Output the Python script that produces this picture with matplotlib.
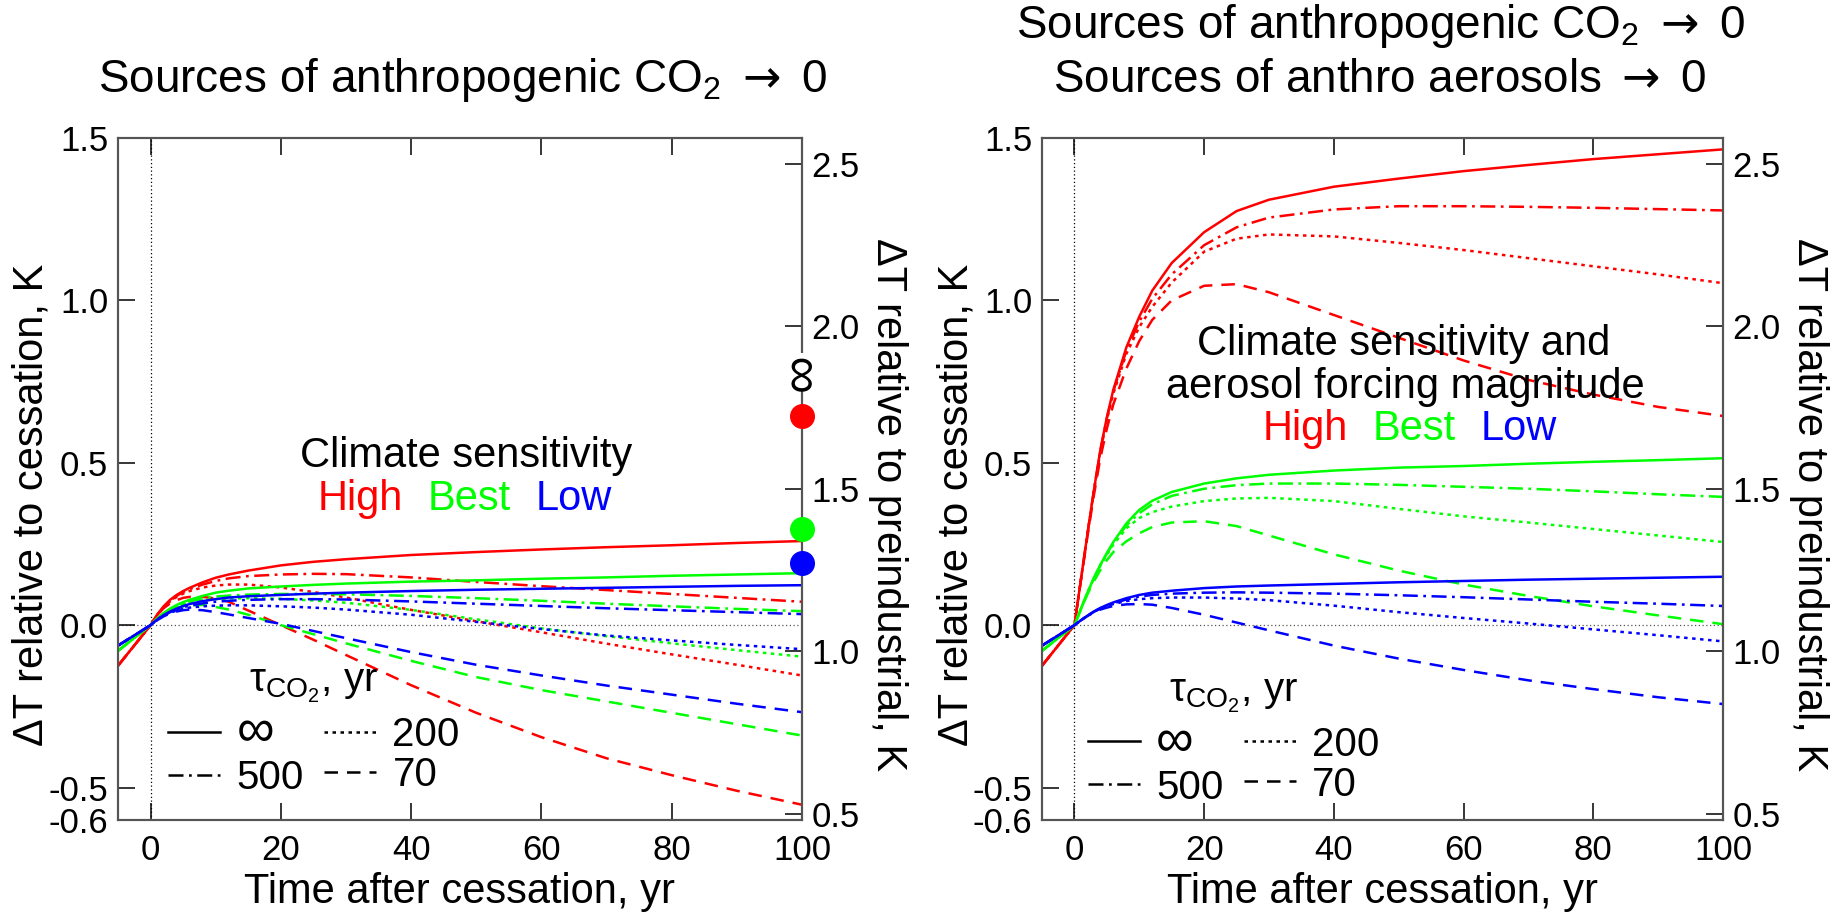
import numpy as np
import matplotlib.pyplot as plt
from matplotlib.lines import Line2D

plt.rcParams['font.family'] = ['Liberation Sans', 'DejaVu Sans']
plt.rcParams['mathtext.fontset'] = 'custom'
plt.rcParams['mathtext.rm'] = 'Liberation Sans'
plt.rcParams['mathtext.it'] = 'Liberation Sans:italic'
plt.rcParams['mathtext.sf'] = 'DejaVu Sans'

W, H = 1837, 916

# years after cessation
t = [-5, 0, 1, 2, 3, 4, 5, 6, 8, 10, 12, 15, 20, 25, 30, 40, 50, 60, 70, 80, 90, 100]

# --- CO2 sources -> 0 (left) ---
red_inf_L = [-0.125, 0, 0.032, 0.058, 0.078, 0.093, 0.105, 0.115, 0.132, 0.146, 0.156, 0.168, 0.184, 0.195, 0.203, 0.216, 0.225, 0.233, 0.240, 0.246, 0.253, 0.259]
red_500_L = [-0.125, 0, 0.031, 0.056, 0.075, 0.090, 0.102, 0.111, 0.125, 0.136, 0.144, 0.151, 0.156, 0.158, 0.157, 0.147, 0.133, 0.120, 0.108, 0.096, 0.084, 0.072]
red_200_L = [-0.125, 0, 0.031, 0.055, 0.073, 0.087, 0.097, 0.105, 0.116, 0.122, 0.125, 0.125, 0.116, 0.102, 0.085, 0.047, 0.012, -0.022, -0.057, -0.090, -0.122, -0.155]
red_70_L = [-0.125, 0, 0.030, 0.052, 0.067, 0.077, 0.084, 0.087, 0.087, 0.082, 0.072, 0.045, 0.0, -0.045, -0.092, -0.185, -0.270, -0.345, -0.410, -0.462, -0.510, -0.553]

green_inf_L = [-0.079, 0, 0.020, 0.037, 0.051, 0.062, 0.071, 0.078, 0.090, 0.100, 0.106, 0.113, 0.119, 0.124, 0.128, 0.134, 0.138, 0.143, 0.147, 0.152, 0.156, 0.160]
green_500_L = [-0.079, 0, 0.020, 0.036, 0.049, 0.059, 0.067, 0.073, 0.082, 0.088, 0.091, 0.094, 0.096, 0.096, 0.095, 0.090, 0.083, 0.075, 0.066, 0.058, 0.050, 0.043]
green_200_L = [-0.079, 0, 0.020, 0.036, 0.048, 0.057, 0.064, 0.069, 0.076, 0.080, 0.082, 0.083, 0.081, 0.076, 0.069, 0.047, 0.018, -0.010, -0.034, -0.056, -0.077, -0.097]
green_70_L = [-0.079, 0, 0.019, 0.034, 0.045, 0.053, 0.058, 0.061, 0.062, 0.056, 0.048, 0.032, 0.0, -0.028, -0.056, -0.110, -0.160, -0.200, -0.235, -0.270, -0.305, -0.340]

blue_inf_L = [-0.063, 0, 0.017, 0.031, 0.042, 0.051, 0.059, 0.065, 0.074, 0.080, 0.085, 0.089, 0.093, 0.097, 0.100, 0.105, 0.109, 0.112, 0.115, 0.118, 0.121, 0.123]
blue_500_L = [-0.063, 0, 0.017, 0.030, 0.040, 0.048, 0.055, 0.060, 0.067, 0.072, 0.075, 0.078, 0.080, 0.080, 0.079, 0.073, 0.066, 0.059, 0.052, 0.046, 0.040, 0.034]
blue_200_L = [-0.063, 0, 0.017, 0.029, 0.038, 0.045, 0.050, 0.054, 0.058, 0.060, 0.061, 0.061, 0.058, 0.054, 0.048, 0.032, 0.010, -0.012, -0.032, -0.047, -0.061, -0.074]
blue_70_L = [-0.063, 0, 0.015, 0.027, 0.036, 0.042, 0.046, 0.048, 0.046, 0.040, 0.033, 0.022, 0.004, -0.018, -0.040, -0.083, -0.122, -0.155, -0.186, -0.214, -0.242, -0.268]

# equilibrium warming (tau = infinity), left panel only
eq_high, eq_best, eq_low = 0.645, 0.297, 0.192

# --- CO2 and aerosol sources -> 0 (right) ---
red_inf_R = [-0.125, 0, 0.14, 0.28, 0.415, 0.54, 0.64, 0.725, 0.855, 0.95, 1.03, 1.115, 1.21, 1.275, 1.31, 1.35, 1.375, 1.398, 1.417, 1.435, 1.45, 1.465]
red_500_R = [-0.125, 0, 0.14, 0.28, 0.415, 0.538, 0.637, 0.72, 0.845, 0.935, 1.005, 1.08, 1.17, 1.225, 1.255, 1.28, 1.29, 1.29, 1.288, 1.285, 1.281, 1.277]
red_200_R = [-0.125, 0, 0.14, 0.279, 0.413, 0.535, 0.632, 0.713, 0.835, 0.918, 0.98, 1.055, 1.15, 1.19, 1.203, 1.197, 1.177, 1.155, 1.13, 1.105, 1.08, 1.053]
red_70_R = [-0.125, 0, 0.138, 0.272, 0.40, 0.515, 0.605, 0.68, 0.79, 0.875, 0.94, 1.0, 1.045, 1.05, 1.025, 0.955, 0.885, 0.815, 0.755, 0.71, 0.672, 0.644]

green_inf_R = [-0.079, 0, 0.05, 0.10, 0.145, 0.186, 0.222, 0.256, 0.313, 0.355, 0.383, 0.41, 0.436, 0.452, 0.463, 0.476, 0.485, 0.49, 0.497, 0.503, 0.508, 0.514]
green_500_R = [-0.079, 0, 0.05, 0.10, 0.145, 0.185, 0.22, 0.253, 0.307, 0.345, 0.372, 0.398, 0.42, 0.431, 0.436, 0.436, 0.432, 0.426, 0.42, 0.412, 0.403, 0.395]
green_200_R = [-0.079, 0, 0.05, 0.099, 0.144, 0.183, 0.217, 0.248, 0.298, 0.33, 0.348, 0.365, 0.382, 0.39, 0.392, 0.382, 0.358, 0.335, 0.316, 0.296, 0.276, 0.256]
green_70_R = [-0.079, 0, 0.048, 0.095, 0.135, 0.17, 0.2, 0.225, 0.258, 0.283, 0.302, 0.316, 0.32, 0.305, 0.276, 0.218, 0.168, 0.125, 0.09, 0.058, 0.03, 0.003]

blue_inf_R = [-0.063, 0, 0.015, 0.029, 0.042, 0.053, 0.062, 0.07, 0.083, 0.093, 0.10, 0.106, 0.114, 0.119, 0.122, 0.127, 0.132, 0.136, 0.14, 0.143, 0.146, 0.149]
blue_500_R = [-0.063, 0, 0.015, 0.029, 0.041, 0.052, 0.06, 0.067, 0.079, 0.088, 0.093, 0.097, 0.10, 0.101, 0.10, 0.097, 0.092, 0.086, 0.079, 0.072, 0.066, 0.059]
blue_200_R = [-0.063, 0, 0.015, 0.029, 0.041, 0.051, 0.059, 0.065, 0.074, 0.08, 0.083, 0.085, 0.085, 0.082, 0.077, 0.06, 0.04, 0.022, 0.005, -0.013, -0.031, -0.05]
blue_70_R = [-0.063, 0, 0.015, 0.028, 0.039, 0.048, 0.054, 0.059, 0.064, 0.065, 0.063, 0.053, 0.032, 0.008, -0.016, -0.063, -0.103, -0.138, -0.17, -0.197, -0.222, -0.243]

x_ticks = [0, 20, 40, 60, 80, 100]
y_ticks = [-0.6, -0.5, 0.0, 0.5, 1.0, 1.5]
y_ticklabels = ['-0.6', '-0.5', '0.0', '0.5', '1.0', '1.5']
y2_ticks = [0.5, 1.0, 1.5, 2.0, 2.5]
offset = 1.08   # preindustrial minus cessation

RED, GREEN, BLUE = '#ff0000', '#00ff00', '#0000ff'
styles = {'inf': '-', '500': (0, (6, 2.2, 1.1, 2.2)),
          '200': (0, (1.4, 1.8)), '70': (0, (5.4, 3.6))}
LW = 1.8
FS_TICK = 25
FS_LAB = 30
FS_TXT = 30
FS_LEG = 29
SPINE = '#555555'
ARROW = r'$\mathsf{\rightarrow}$'


def fx(px):
    return px / W


def fy(py):
    return 1 - py / H


fig = plt.figure(figsize=(W / 100, H / 100), dpi=100)
axL = fig.add_axes([fx(118), fy(820), fx(802) - fx(118), fy(138) - fy(820)])
axR = fig.add_axes([fx(1042), fy(820), fx(1723) - fx(1042), fy(138) - fy(820)])


def setup(ax):
    ax.set_xlim(-5, 100)
    ax.set_ylim(-0.6, 1.5)
    ax.axvline(0, color='k', lw=0.9, ls=(0, (1, 2)), zorder=1)
    ax.axhline(0, color='#555555', lw=0.9, ls=(0, (1, 2)), zorder=1)
    ax.set_xticks(x_ticks)
    ax.set_yticks(y_ticks)
    ax.set_yticklabels(y_ticklabels)
    ax.tick_params(direction='in', length=12, width=1.1, labelsize=FS_TICK,
                   top=True, pad=7, colors='k')
    ax.tick_params(axis='x', pad=10)
    for s in ax.spines.values():
        s.set_color(SPINE)
        s.set_linewidth(1.5)
    ax.set_xlabel('Time after cessation, yr', fontsize=FS_LAB)
    ax.set_ylabel('\u0394T relative to cessation, K', fontsize=FS_LAB, va='center')
    ax.yaxis.set_label_coords(-0.126, 0.462)

    ax2 = ax.twinx()
    ax2.set_ylim(-0.6 + offset, 1.5 + offset)
    ax2.set_yticks(y2_ticks)
    ax2.set_yticklabels(['%.1f' % v for v in y2_ticks])
    ax2.tick_params(direction='in', length=12, width=1.1, labelsize=FS_TICK, pad=7)
    for s in ax2.spines.values():
        s.set_color(SPINE)
        s.set_linewidth(1.5)
    ax2.spines['right'].set_color('#222222')
    ax2.set_ylabel('\u0394T relative to preindustrial, K', fontsize=FS_LAB,
                   rotation=270, va='center')
    ax2.yaxis.set_label_coords(1.126, 0.462)
    # keep the curves above the twin axis spine
    ax.set_zorder(ax2.get_zorder() + 1)
    ax.patch.set_visible(False)
    return ax2


def draw_runs(ax, runs):
    for color, curves in runs:
        for key in ['70', '200', '500', 'inf']:
            ax.plot(t, curves[key], color=color, lw=LW, ls=styles[key])


def add_legend(ax, anchor):
    handles = [Line2D([], [], color='k', lw=LW, ls=styles[k]) for k in ['inf', '500', '200', '70']]
    labels = ['\u221e', '500', '200', '70']
    leg = ax.legend(handles, labels, ncol=2, title='\u03c4$_{\\mathrm{CO}_2}$, yr',
                    frameon=False, loc='upper left', bbox_to_anchor=anchor,
                    fontsize=FS_LEG, title_fontsize=FS_LEG, handlelength=1.3,
                    handletextpad=0.4, columnspacing=0.5, labelspacing=0.05,
                    borderpad=0, borderaxespad=0)
    leg.get_texts()[0].set_fontsize(38)
    return leg


setup(axL)
setup(axR)

draw_runs(axL, [
    (RED, {'inf': red_inf_L, '500': red_500_L, '200': red_200_L, '70': red_70_L}),
    (GREEN, {'inf': green_inf_L, '500': green_500_L, '200': green_200_L, '70': green_70_L}),
    (BLUE, {'inf': blue_inf_L, '500': blue_500_L, '200': blue_200_L, '70': blue_70_L}),
])
draw_runs(axR, [
    (RED, {'inf': red_inf_R, '500': red_500_R, '200': red_200_R, '70': red_70_R}),
    (GREEN, {'inf': green_inf_R, '500': green_500_R, '200': green_200_R, '70': green_70_R}),
    (BLUE, {'inf': blue_inf_R, '500': blue_500_R, '200': blue_200_R, '70': blue_70_R}),
])

# equilibrium dots on the right-hand axis
for val, c in [(eq_high, RED), (eq_best, GREEN), (eq_low, BLUE)]:
    axL.plot([100], [val], 'o', color=c, ms=17, clip_on=False, zorder=6)
axL.text(100, 0.78, '\u221e', rotation=90, ha='center', va='center', fontsize=38,
         zorder=6, bbox=dict(facecolor='white', edgecolor='none', pad=0))

add_legend(axL, (0.073, 0.232))
add_legend(axR, (0.067, 0.218))

# annotations
fig.text(fx(466), fy(467), 'Climate sensitivity', fontsize=FS_TXT, ha='center', va='baseline')
for word, x0, c in [('High', 318, RED), ('Best', 428, GREEN), ('Low', 536, BLUE)]:
    fig.text(fx(x0), fy(510), word, fontsize=FS_TXT, color=c, ha='left', va='baseline')

fig.text(fx(1404), fy(355), 'Climate sensitivity and', fontsize=FS_TXT, ha='center', va='baseline')
fig.text(fx(1405), fy(398), 'aerosol forcing magnitude', fontsize=FS_TXT, ha='center', va='baseline')
for word, x0, c in [('High', 1263, RED), ('Best', 1373, GREEN), ('Low', 1481, BLUE)]:
    fig.text(fx(x0), fy(440), word, fontsize=FS_TXT, color=c, ha='left', va='baseline')

# panel titles
fig.text(fx(462), fy(80), 'Sources of anthropogenic CO$_2$ ' + ARROW + ' 0', fontsize=33,
         ha='center', va='center')
fig.text(fx(1380), fy(26), 'Sources of anthropogenic CO$_2$ ' + ARROW + ' 0', fontsize=33,
         ha='center', va='center')
fig.text(fx(1380), fy(80), 'Sources of anthro aerosols ' + ARROW + ' 0', fontsize=33,
         ha='center', va='center')

fig.savefig('out.png', dpi=100)
